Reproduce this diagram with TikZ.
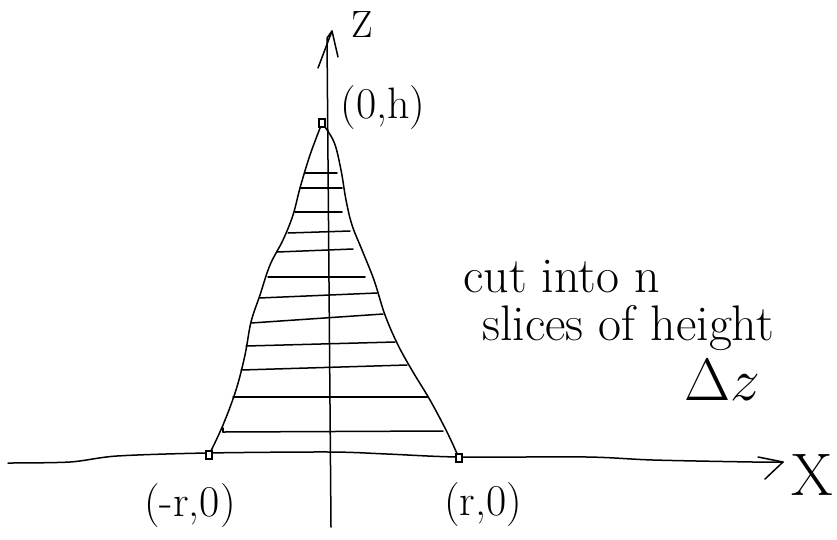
\documentclass[tikz,border=0pt]{standalone}
\usepackage{graphicx}
\usepackage{fontspec}
\begin{document}
\begin{tikzpicture}[x=1pt,y=-1pt,
  pen/.style={line width=1.5pt, line cap=round, line join=round},
  marker/.style={draw, line width=1.2pt, minimum width=6pt, minimum height=8pt, inner sep=0pt, fill=white},
  lbl/.style={font=\fontsize{44}{50}\selectfont, inner sep=0pt},
  note/.style={font=\fontsize{50}{56}\selectfont, inner sep=0pt, anchor=base west}]
\useasboundingbox (0,0) rectangle (837,539);
% x axis
\coordinate (xs) at (8,463);
\coordinate (xe) at (783,462);
\coordinate (xup) at (758,457);
\coordinate (xlo) at (765,479);
\draw[pen] plot[smooth, tension=0.5] coordinates {(8,463) (70,462) (117,456) (207,453) (330,452) (387,454) (459,457) (587,457) (653,460) (753,462) (783,462)};
\draw[pen] (xup) -- (xe) -- (xlo);
% z axis
\coordinate (zs) at (331,527);
\coordinate (ze) at (327,38);
\coordinate (ztip) at (332,31);
\coordinate (zl) at (318,68);
\coordinate (zr) at (338,57);
\draw[pen] (zs) -- (ze) -- (ztip);
\draw[pen] (zl) -- (ztip) -- (zr);
% sides of the solid
\draw[pen] plot[smooth, tension=0.6] coordinates {(322,123) (310,155) (300,188) (293,215) (283,240) (270,265) (260,295) (251,322) (245,355) (236,390) (223,425) (209,455)};
\draw[pen] plot[smooth, tension=0.6] coordinates {(322,123) (334,142) (341,170) (346,200) (352,225) (362,250) (374,280) (385,315) (398,345) (413,372) (430,400) (447,432) (459,458)};
% slices
\foreach \i/\lx/\ly/\rx/\ry in {1/305/173/337/173, 2/300/188/342/188, 3/295/212/342/212, 4/288/233/350/231, 5/277/252/353/249, 6/268/277/365/277, 7/259/298/377/293, 8/251/323/383/314, 9/246/346/395/342, 10/241/370/407/365, 11/233/397/428/397, 12/223/432/443/431}{
  \coordinate (L\i) at (\lx,\ly);
  \coordinate (R\i) at (\rx,\ry);
  \draw[pen] (L\i) -- (R\i);
}
\coordinate (hook) at (223,428);
\draw[pen] (hook) -- (L12);
% marked points
\node[marker] (apex) at (322,123) {};
\node[marker] (lb) at (209,455) {};
\node[marker] (rb) at (459,458) {};
% labels
\node[font=\fontsize{38}{44}\selectfont, inner sep=0pt] (zlab) at (362,25) {Z};
\node[font=\fontsize{60}{66}\selectfont, inner sep=0pt] (xlab) at (812,475) {X};
\node[lbl] (apexlab) at (383,108) {(0,h)};
\node[lbl] (lblab) at (190,506) {(-r,0)};
\node[lbl] (rblab) at (483,505) {(r,0)};
\node[note] (t1) at (463,292) {cut into n};
\node[note] (t2) at (482,340) {slices of height};
\node[note] (t3) at (684,400) {\scalebox{2.4}{$\Delta z$}};
\end{tikzpicture}
\end{document}
